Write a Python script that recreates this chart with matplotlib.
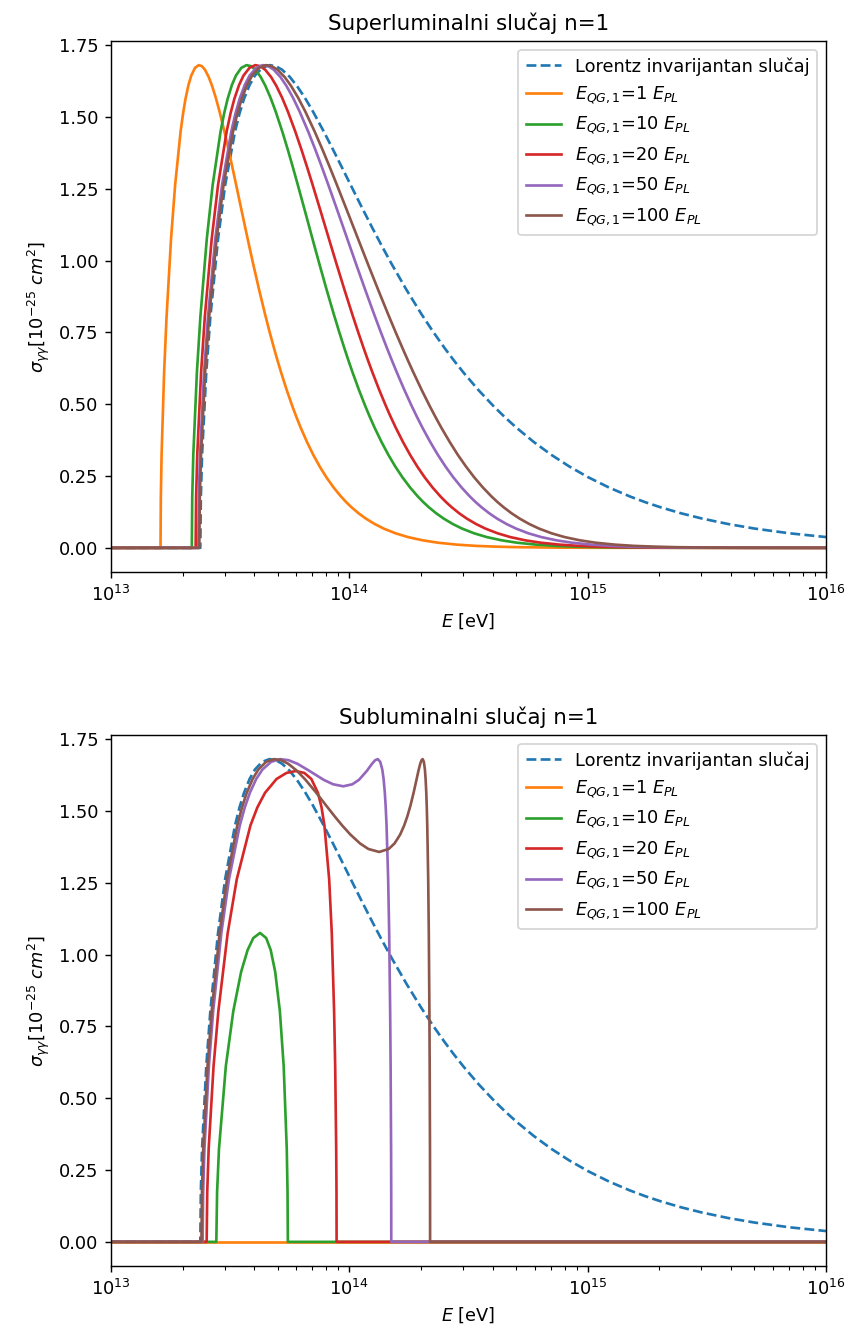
import matplotlib
matplotlib.use('Agg')
import matplotlib.pyplot as plt
import numpy as np

E_UNIT = 1e13  # energies below are given in units of 1e13 eV

legend_li = 'Lorentz invarijantan slučaj'
qg_values = [1, 10, 20, 50, 100]
qg_labels = [r'$E_{QG,1}$=%d $E_{PL}$' % q for q in qg_values]
titles = ['Superluminalni slučaj n=1', 'Subluminalni slučaj n=1']

# ---------------- Lorentz invariant curve ----------------
li_E = [1.0, 2.37, 2.3819, 2.4102, 2.5105, 2.6110, 2.8118, 3.0127, 3.3140, 3.4614,
        3.6152, 3.8157, 4.0169, 4.3077, 4.6196, 4.9116, 5.2221, 5.6238, 6.0255, 6.5083,
        7.0297, 7.821, 8.5360, 9.2582, 10.042, 11.228, 12.553, 13.751, 15.063, 17.394,
        20.085, 22.455, 25.105, 27.501, 30.127, 34.789, 40.169, 44.912, 50.211, 59.411,
        70.297, 84.021, 100.42, 122.99, 150.63, 173.94, 200.85, 246.01, 301.27, 388.92,
        502.11, 702.97, 1000.0]
li_sig = [0, 0, 0.1747, 0.3233, 0.6114, 0.8029, 1.0744, 1.2624, 1.4492, 1.5120,
          1.5627, 1.6110, 1.6437, 1.6704, 1.6799, 1.6764, 1.6639, 1.6389, 1.6078, 1.5663,
          1.5192, 1.4481, 1.3865, 1.3280, 1.2690, 1.1885, 1.1099, 1.0476, 0.9873, 0.8971,
          0.8131, 0.7523, 0.6953, 0.6515, 0.6101, 0.5494, 0.4942, 0.4549, 0.4184, 0.3685,
          0.3241, 0.2825, 0.2460, 0.2098, 0.1787, 0.1593, 0.1420, 0.1205, 0.1022, 0.0829,
          0.0671, 0.0507, 0.0376]

# ---------------- Superluminal case (shared cross-section levels) ----------------
sup_sig = [0, 0, 0.1747, 0.3233, 0.6114, 0.8029, 1.0744, 1.2624, 1.4492, 1.5120,
           1.5627, 1.6110, 1.6437, 1.6704, 1.6799, 1.6764, 1.6639, 1.6389, 1.6078, 1.5663,
           1.5192, 1.4481, 1.3865, 1.3280, 1.2690, 1.1885, 1.1099, 1.0476, 0.9873, 0.8971,
           0.8131, 0.7523, 0.6953, 0.6515, 0.6101, 0.5494, 0.4942, 0.4549, 0.4184, 0.3685,
           0.3241, 0.2825, 0.2460, 0.2098, 0.1787, 0.1593, 0.1420, 0.1205, 0.1022, 0.0829,
           0.0671, 0.0507, 0.0375, 0.0261, 0.0180, 0.0112, 0.0069, 0.0041, 0.0024, 0.0008,
           0.0003, 0.0]
sup_E_1 = [1.0, 1.6135, 1.6184, 1.6301, 1.6707, 1.7102, 1.7859, 1.8578, 1.9593, 2.0065,
           2.0541, 2.1140, 2.1718, 2.2516, 2.3329, 2.4052, 2.4788, 2.5692, 2.6549, 2.7524,
           2.8519, 2.9928, 3.1114, 3.2237, 3.3388, 3.5007, 3.6677, 3.8076, 3.9514, 4.1856,
           4.4296, 4.6258, 4.8285, 4.9991, 5.1744, 5.4606, 5.7594, 6.0003, 6.2494, 6.6416,
           7.0547, 7.5169, 8.0057, 8.5958, 9.2252, 9.6970, 10.1913, 10.9283, 11.7145, 12.7819,
           13.942, 15.6269, 17.628, 20.360, 23.53, 28.275, 33.995, 41.578, 50.83, 74.613,
           109.57, 1000.0]
sup_E_10 = [1.0, 2.1827, 2.1921, 2.2144, 2.2933, 2.3710, 2.5226, 2.6699, 2.8826, 2.9832,
            3.0859, 3.2164, 3.3436, 3.5213, 3.7042, 3.8687, 4.0370, 4.2455, 4.4444, 4.6717,
            4.9047, 5.2359, 5.5150, 5.7800, 6.0514, 6.4330, 6.8259, 7.1545, 7.4915, 8.0384,
            8.6056, 9.0600, 9.5276, 9.9197, 10.3218, 10.9754, 11.6547, 12.2005, 12.7631, 13.6455,
            14.5713, 15.6029, 16.6897, 17.9972, 19.389, 20.4264, 21.513, 23.1297, 24.852, 27.182,
            29.708, 33.375, 37.72, 43.639, 50.498, 60.757, 73.10, 89.466, 109.41, 160.68,
            236.0, 1000.0]
sup_E_20 = [1.0, 2.2653, 2.2757, 2.3005, 2.3881, 2.4746, 2.6451, 2.8124, 3.0567, 3.1735,
            3.2935, 3.4469, 3.5976, 3.8097, 4.0301, 4.2300, 4.4360, 4.6930, 4.9399, 5.2242,
            5.5173, 5.9366, 6.2925, 6.6316, 6.9800, 7.4715, 7.9792, 8.4045, 8.8410, 9.5500,
            10.2856, 10.8742, 11.4800, 11.9875, 12.5076, 13.3520, 14.2283, 14.9313, 15.6553, 16.7894,
            17.975, 19.2979, 20.685, 22.3567, 24.13, 25.452, 26.83, 28.888, 31.07, 34.029,
            37.23, 41.871, 47.365, 54.844, 63.50, 76.447, 92.02, 112.65, 137.8, 202.42,
            297.3, 1000.0]
sup_E_50 = [1.0, 2.3247, 2.3359, 2.3626, 2.4571, 2.5510, 2.7378, 2.9228, 3.1964, 3.3285,
            3.4653, 3.6417, 3.8166, 4.0656, 4.3276, 4.5682, 4.8189, 5.1358, 5.4442, 5.8040,
            6.1796, 6.7252, 7.1946, 7.6472, 8.1165, 8.7853, 9.4828, 10.0711, 10.678, 11.6694,
            12.7021, 13.5309, 14.3842, 15.0997, 15.8325, 17.022, 18.255, 19.243, 20.2588, 21.847,
            23.505, 25.348, 27.275, 29.597, 32.045, 33.877, 35.78, 38.613, 41.615, 45.674,
            50.065, 56.408, 63.906, 74.112, 85.91, 103.52, 124.7, 152.73, 186.88, 274.63,
            403.5, 1000.0]
sup_E_100 = [1.0, 2.3467, 2.3582, 2.3857, 2.4830, 2.5799, 2.7734, 2.9658, 3.2520, 3.3911,
             3.5356, 3.7228, 3.9093, 4.1765, 4.4598, 4.7220, 4.9973, 5.3482, 5.6931, 6.0995,
             6.5285, 7.1600, 7.7104, 8.2476, 8.8106, 9.6229, 10.4806, 11.2122, 11.9726, 13.2264,
             14.5438, 15.6073, 16.7066, 17.6305, 18.5787, 20.1196, 21.7182, 22.9991, 24.3157, 26.3726,
             28.498, 30.897, 33.375, 36.366, 39.51, 41.856, 44.29, 47.911, 51.745, 56.911,
             62.49, 70.548, 80.056, 92.975, 107.9, 130.14, 156.87, 192.24, 235.3, 345.9,
             508.2, 1000.0]

# ---------------- Subluminal case ----------------
sub_E_1 = [1.0, 1000.0]
sub_sig_1 = [0, 0]

sub_E_10 = [1.0, 2.7664, 2.7873, 2.8383, 3.0328, 3.2593, 3.5144, 3.7426, 3.9544, 4.2194,
            4.4791, 4.6789, 4.8868, 5.1114, 5.3034, 5.4634, 5.5044, 5.5211, 1000.0]
sub_sig_10 = [0, 0, 0.1747, 0.3233, 0.6114, 0.8029, 0.9392, 1.0155, 1.0573, 1.0750,
              1.0573, 1.0155, 0.9392, 0.8029, 0.6114, 0.3233, 0.1747, 0, 0]

sub_E_20 = [1.0, 2.5197, 2.5342, 2.5688, 2.6934, 2.8212, 3.0872, 3.3715, 3.8469, 4.1124,
            4.4278, 4.9537, 5.4475, 5.9672, 6.4722, 6.9262, 7.3838, 7.6462, 7.8605, 8.2287,
            8.4401, 8.6319, 8.7221, 8.8088, 8.8327, 8.8426, 1000.0]
sub_sig_20 = [0, 0, 0.1747, 0.3233, 0.6114, 0.8029, 1.0744, 1.2624, 1.4492, 1.5120,
              1.5627, 1.6110, 1.6319, 1.6385, 1.6319, 1.6110, 1.5627, 1.5120, 1.4492, 1.2624,
              1.0744, 0.8029, 0.6114, 0.3233, 0.1747, 0, 0]

sub_E_50 = [1.0, 2.4233, 2.4360, 2.4664, 2.5745, 2.6834, 2.9034, 3.1273, 3.4705, 3.6424,
            3.8247, 4.0678, 4.3185, 4.6953, 5.1231, 5.5527, 6.0522, 6.8026, 7.8079, 8.5493,
            9.4349, 10.2935, 10.9732, 11.8416, 12.4525, 12.8419, 13.1664, 13.4801, 13.7487, 13.9237,
            14.0902, 14.2134, 14.3277, 14.5521, 14.6954, 14.8339, 14.9017, 14.9684, 14.9869, 14.9948,
            1000.0]
sub_sig_50 = [0, 0, 0.1747, 0.3233, 0.6114, 0.8029, 1.0744, 1.2624, 1.4492, 1.5120,
              1.5627, 1.6110, 1.6437, 1.6704, 1.6799, 1.6764, 1.6639, 1.6389, 1.6078, 1.5924,
              1.5854, 1.5924, 1.6078, 1.6389, 1.6639, 1.6764, 1.6799, 1.6704, 1.6437, 1.6110,
              1.5627, 1.5120, 1.4492, 1.2624, 1.0744, 0.8029, 0.6114, 0.3233, 0.1747, 0,
              0]

sub_E_100 = [1.0, 2.3958, 2.4080, 2.4373, 2.5412, 2.6457, 2.8553, 3.0667, 3.3867, 3.5448,
             3.7109, 3.9293, 4.1508, 4.4756, 4.8307, 5.1704, 5.5405, 6.0354, 6.5522, 7.2100,
             7.9818, 8.6973, 9.3529, 10.113, 11.0892, 12.023, 13.343, 14.6206, 15.4764, 16.3304,
             16.9684, 17.5003, 18.0619, 18.6462, 19.1272, 19.4942, 19.8369, 20.0876, 20.3136, 20.5456,
             20.754, 20.8942, 21.0307, 21.1335, 21.2304, 21.4242, 21.5504, 21.6741, 21.7351, 21.7955,
             21.8124, 21.8195, 1000.0]
sub_sig_100 = [0, 0, 0.1747, 0.3233, 0.6114, 0.8029, 1.0744, 1.2624, 1.4492, 1.5120,
               1.5627, 1.6110, 1.6437, 1.6704, 1.6799, 1.6764, 1.6639, 1.6389, 1.6078, 1.5663,
               1.5192, 1.4798, 1.4481, 1.4171, 1.3865, 1.3672, 1.3569, 1.3672, 1.3865, 1.4171,
               1.4481, 1.4798, 1.5192, 1.5663, 1.6078, 1.6389, 1.6639, 1.6764, 1.6799, 1.6704,
               1.6437, 1.6110, 1.5627, 1.5120, 1.4492, 1.2624, 1.0744, 0.8029, 0.6114, 0.3233,
               0.1747, 0, 0]

super_curves = [(sup_E_1, sup_sig), (sup_E_10, sup_sig), (sup_E_20, sup_sig),
                (sup_E_50, sup_sig), (sup_E_100, sup_sig)]
sub_curves = [(sub_E_1, sub_sig_1), (sub_E_10, sub_sig_10), (sub_E_20, sub_sig_20),
              (sub_E_50, sub_sig_50), (sub_E_100, sub_sig_100)]

DPI = 128
fig = plt.figure(figsize=(848 / DPI, 1339 / DPI), dpi=DPI)
ax1 = fig.add_axes([111 / 848, 1 - 572 / 1339, 715 / 848, 531 / 1339])
ax2 = fig.add_axes([111 / 848, 1 - 1266 / 1339, 715 / 848, 531 / 1339])

for ax, title, curves in [(ax1, titles[0], super_curves), (ax2, titles[1], sub_curves)]:
    ax.plot(np.array(li_E) * E_UNIT, li_sig, '--', color='C0', label=legend_li)
    for i, ((E, s), lab) in enumerate(zip(curves, qg_labels)):
        ax.plot(np.array(E) * E_UNIT, s, '-', color='C%d' % (i + 1), label=lab)
    ax.set_xscale('log')
    ax.set_xlim(1e13, 1e16)
    ax.set_xlabel(r'$E$ [eV]')
    ax.set_ylabel(r'$\sigma_{\gamma\gamma}[10^{-25}\ cm^2]$')
    ax.set_title(title)
    ax.legend(loc='upper right')

fig.savefig('out.png', dpi=DPI)
